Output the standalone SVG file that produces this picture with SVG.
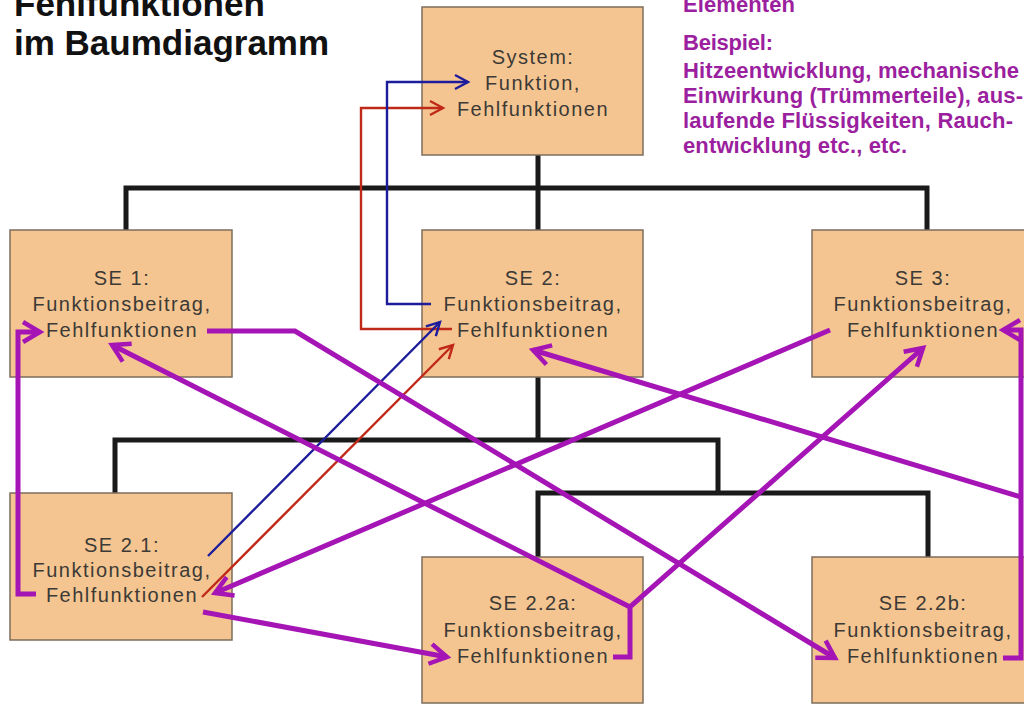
<svg xmlns="http://www.w3.org/2000/svg" width="1024" height="704" viewBox="0 0 1024 704">
<style>
.box{fill:#F5C591;stroke:#7d6c5c;stroke-width:1.5}
.bt{font-family:"Liberation Sans",Arial,sans-serif;font-size:20px;fill:#3c3a36;text-anchor:middle;letter-spacing:1.5px}
.title{font-family:"Liberation Sans",Arial,sans-serif;font-size:35px;font-weight:bold;fill:#111}
.note{font-family:"Liberation Sans",Arial,sans-serif;font-size:22px;font-weight:bold;fill:#9B1F9E}
.tree{fill:none;stroke:#1a1a1a;stroke-width:5;stroke-linejoin:miter;stroke-linecap:square}
.pu{fill:none;stroke:#A514B5;stroke-width:5;stroke-linejoin:miter}
.bl{fill:none;stroke:#1c1c9c;stroke-width:2.4}
.rd{fill:none;stroke:#c02818;stroke-width:2.4}
</style>
<defs>
<marker id="ap" viewBox="-22 -14 28 28" refX="0" refY="0" markerWidth="28" markerHeight="28" orient="auto" markerUnits="userSpaceOnUse">
<path d="M-17,-10 L0,0 L-17,10" fill="none" stroke="#A514B5" stroke-width="4.5"/>
</marker>
<marker id="ab" viewBox="-16 -10 20 20" refX="0" refY="0" markerWidth="20" markerHeight="20" orient="auto" markerUnits="userSpaceOnUse">
<path d="M-13,-7 L0,0 L-13,7" fill="none" stroke="#1c1c9c" stroke-width="2.4"/>
</marker>
<marker id="ar" viewBox="-16 -10 20 20" refX="0" refY="0" markerWidth="20" markerHeight="20" orient="auto" markerUnits="userSpaceOnUse">
<path d="M-13,-7 L0,0 L-13,7" fill="none" stroke="#c02818" stroke-width="2.4"/>
</marker>
</defs>
<rect width="1024" height="704" fill="#fff"/>

<g id="title">
<text class="title" x="14" y="16">Fehlfunktionen</text>
<text class="title" x="14" y="55">im Baumdiagramm</text>
</g>

<g id="note">
<text class="note" x="683" y="12" textLength="112">Elementen</text>
<text class="note" x="683" y="50" textLength="90">Beispiel:</text>
<text class="note" x="683" y="78" textLength="336">Hitzeentwicklung, mechanische</text>
<text class="note" x="683" y="103" textLength="340">Einwirkung (Trümmerteile), aus-</text>
<text class="note" x="683" y="128" textLength="330">laufende Flüssigkeiten, Rauch-</text>
<text class="note" x="683" y="153" textLength="224">entwicklung etc., etc.</text>
</g>

<g id="tree">
<path class="tree" d="M538,155 V230 M126,230 V188 H927 V230"/>
<path class="tree" d="M538,377 V440 M115,493 V440 H718 V493 M538,557 V493 H928 V557"/>
</g>

<g id="node-system">
<rect class="box" x="422" y="7" width="221" height="148"/>
<text class="bt" x="533" y="64">System:</text>
<text class="bt" x="533" y="90">Funktion,</text>
<text class="bt" x="533" y="116">Fehlfunktionen</text>
</g>
<g id="node-se1">
<rect class="box" x="10" y="230" width="222" height="147"/>
<text class="bt" x="122" y="285">SE 1:</text>
<text class="bt" x="122" y="311">Funktionsbeitrag,</text>
<text class="bt" x="122" y="337">Fehlfunktionen</text>
</g>
<g id="node-se2">
<rect class="box" x="422" y="230" width="221" height="147"/>
<text class="bt" x="533" y="285">SE 2:</text>
<text class="bt" x="533" y="311">Funktionsbeitrag,</text>
<text class="bt" x="533" y="337">Fehlfunktionen</text>
</g>
<g id="node-se3">
<rect class="box" x="812" y="230" width="221" height="147"/>
<text class="bt" x="923" y="285">SE 3:</text>
<text class="bt" x="923" y="311">Funktionsbeitrag,</text>
<text class="bt" x="923" y="337">Fehlfunktionen</text>
</g>
<g id="node-se21">
<rect class="box" x="10" y="493" width="222" height="147"/>
<text class="bt" x="122" y="552">SE 2.1:</text>
<text class="bt" x="122" y="577">Funktionsbeitrag,</text>
<text class="bt" x="122" y="602">Fehlfunktionen</text>
</g>
<g id="node-se22a">
<rect class="box" x="422" y="557" width="221" height="146"/>
<text class="bt" x="533" y="610">SE 2.2a:</text>
<text class="bt" x="533" y="637">Funktionsbeitrag,</text>
<text class="bt" x="533" y="663">Fehlfunktionen</text>
</g>
<g id="node-se22b">
<rect class="box" x="812" y="557" width="221" height="146"/>
<text class="bt" x="923" y="610">SE 2.2b:</text>
<text class="bt" x="923" y="637">Funktionsbeitrag,</text>
<text class="bt" x="923" y="663">Fehlfunktionen</text>
</g>

<g id="connectors">
<path class="rd" d="M452,329 H361 V108 H443" marker-end="url(#ar)"/>
<path class="bl" d="M431,304 H387 V82 H468" marker-end="url(#ab)"/>
<path class="rd" d="M202,597 L453,345" marker-end="url(#ar)"/>
<path class="bl" d="M208,556 L440,322" marker-end="url(#ab)"/>
<path class="pu" d="M207,331 H295 L835,658" marker-end="url(#ap)"/>
<path class="pu" d="M613,657 H630 V607 L923,348" marker-end="url(#ap)"/>
<path class="pu" d="M630,607 L112,345" marker-end="url(#ap)"/>
<path class="pu" d="M830,330 L215,593" marker-end="url(#ap)"/>
<path class="pu" d="M1003,658 H1021 V330 H1003" marker-end="url(#ap)"/>
<path class="pu" d="M1021,497 L533,350" marker-end="url(#ap)"/>
<path class="pu" d="M36,594 H18 V332 H40" marker-end="url(#ap)"/>
<path class="pu" d="M203,612 L447,657" marker-end="url(#ap)"/>
</g>
</svg>
